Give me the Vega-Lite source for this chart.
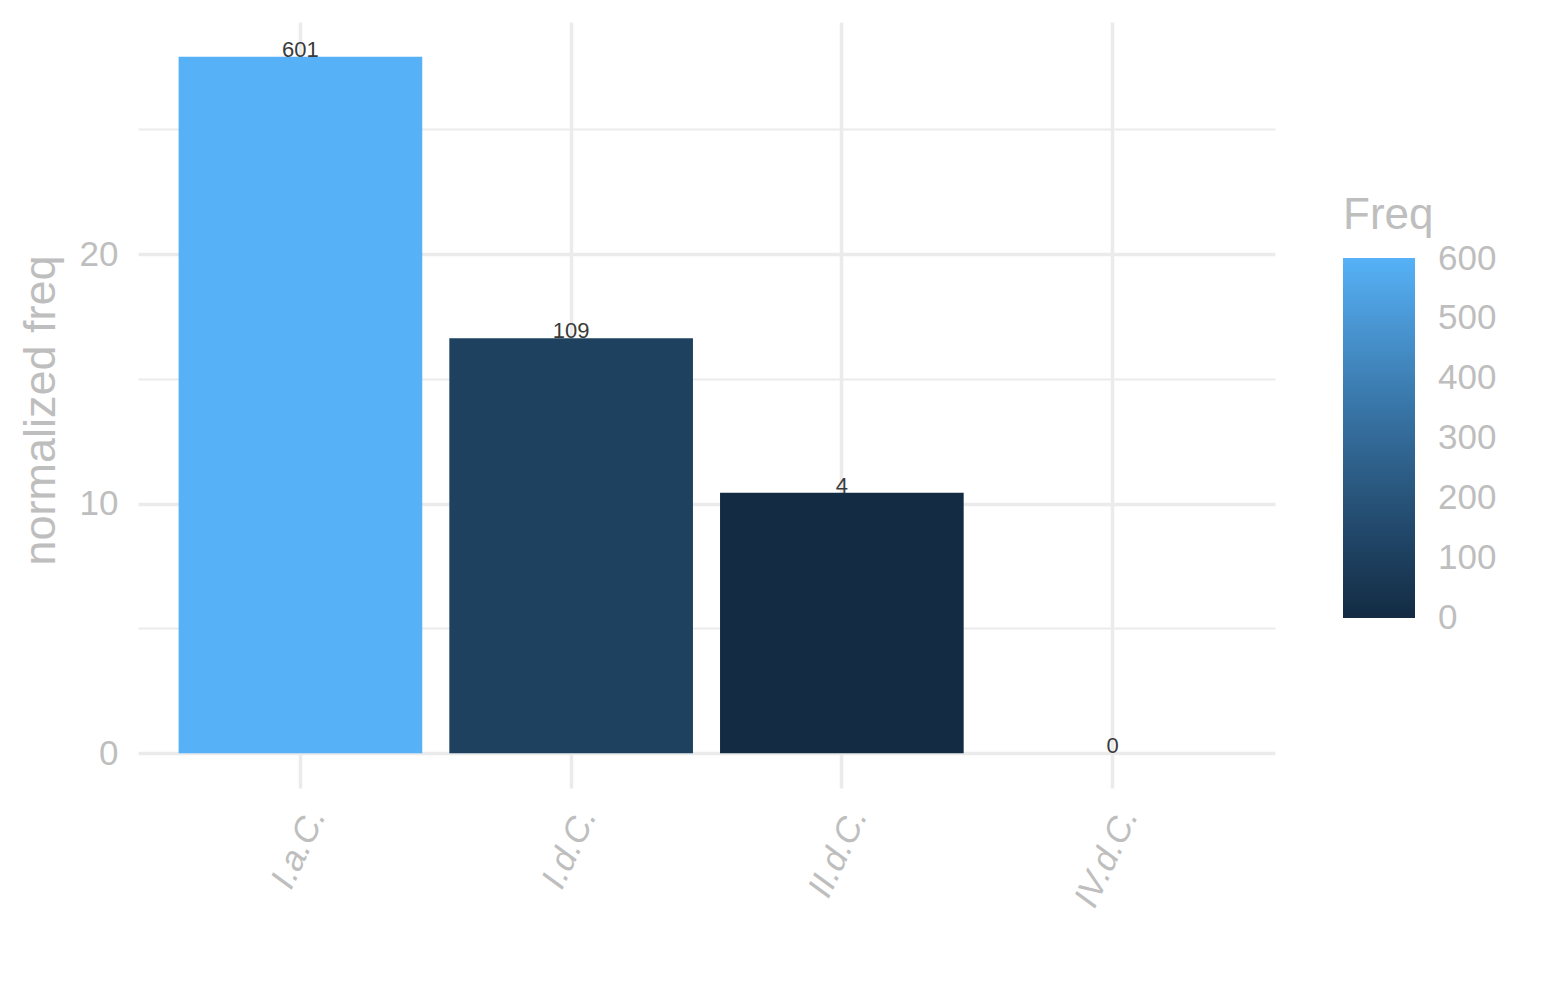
{
  "$schema": "https://vega.github.io/schema/vega-lite/v6.json",
  "autosize": "none",
  "padding": {"left": 138, "top": 22, "right": 270, "bottom": 212},
  "width": 1137,
  "height": 766,
  "background": "white",
  "config": {
    "view": {"stroke": null},
    "font": "Liberation Sans",
    "axis": {"labelFont": "Liberation Sans", "titleFont": "Liberation Sans"},
    "legend": {"labelFont": "Liberation Sans", "titleFont": "Liberation Sans"}
  },
  "data": {
    "values": [
      {"period": "I.a.C.", "norm": 27.91, "Freq": 601},
      {"period": "I.d.C.", "norm": 16.63, "Freq": 109},
      {"period": "II.d.C.", "norm": 10.44, "Freq": 4},
      {"period": "IV.d.C.", "norm": 0, "Freq": 0}
    ]
  },
  "layer": [
    {
      "mark": {"type": "bar"},
      "encoding": {
        "x": {
          "field": "period", "type": "nominal", "sort": null,
          "scale": {"paddingInner": 0.1, "paddingOuter": 0.15},
          "axis": {
            "title": null, "domain": false, "ticks": false,
            "grid": true, "gridColor": "#EBEBEB", "gridWidth": 3.5, "bandPosition": 0.5,
            "labelAngle": -65, "labelAlign": "right", "labelBaseline": "middle",
            "labelFontSize": 35, "labelFontStyle": "italic", "labelColor": "#BEBEBE",
            "labelPadding": 22, "labelOffset": 16
          }
        },
        "y": {
          "field": "norm", "type": "quantitative",
          "scale": {"domain": [-1.3955, 29.305], "nice": false, "zero": false},
          "axis": {
            "title": "normalized freq", "titleFontSize": 45, "titleFontWeight": "normal",
            "titleColor": "#BEBEBE", "titlePadding": 16, "titleY": 388,
            "values": [0, 5, 10, 15, 20, 25],
            "labelExpr": "datum.value % 10 === 0 ? datum.label : ''",
            "labelFontSize": 35, "labelColor": "#BEBEBE", "labelPadding": 20,
            "domain": false, "ticks": false,
            "grid": true, "gridColor": "#EBEBEB",
            "gridWidth": {"condition": {"test": "datum.value % 10 === 0", "value": 3.5}, "value": 2}
          }
        },
        "y2": {"datum": 0},
        "color": {
          "field": "Freq", "type": "quantitative",
          "scale": {"domain": [0, 601], "range": ["#132B43", "#56B1F7"], "interpolate": "lab"},
          "legend": {
            "title": "Freq", "orient": "none", "legendX": 1205, "legendY": 172,
            "titleFontSize": 44, "titleFontWeight": "normal", "titleColor": "#BEBEBE", "titlePadding": 20,
            "gradientLength": 360, "gradientThickness": 72, "gradientStrokeWidth": 0,
            "labelFontSize": 35, "labelColor": "#BEBEBE", "labelOffset": 23,
            "values": [0, 100, 200, 300, 400, 500, 600],
            "encode": {"labels": {"update": {"baseline": {"value": "middle"}}}}
          }
        }
      }
    },
    {
      "mark": {"type": "text", "baseline": "alphabetic", "fontSize": 22, "color": "#3A3A3A"},
      "encoding": {
        "x": {"field": "period", "type": "nominal", "sort": null},
        "y": {"field": "norm", "type": "quantitative"},
        "text": {"field": "Freq", "type": "quantitative"}
      }
    }
  ]
}
